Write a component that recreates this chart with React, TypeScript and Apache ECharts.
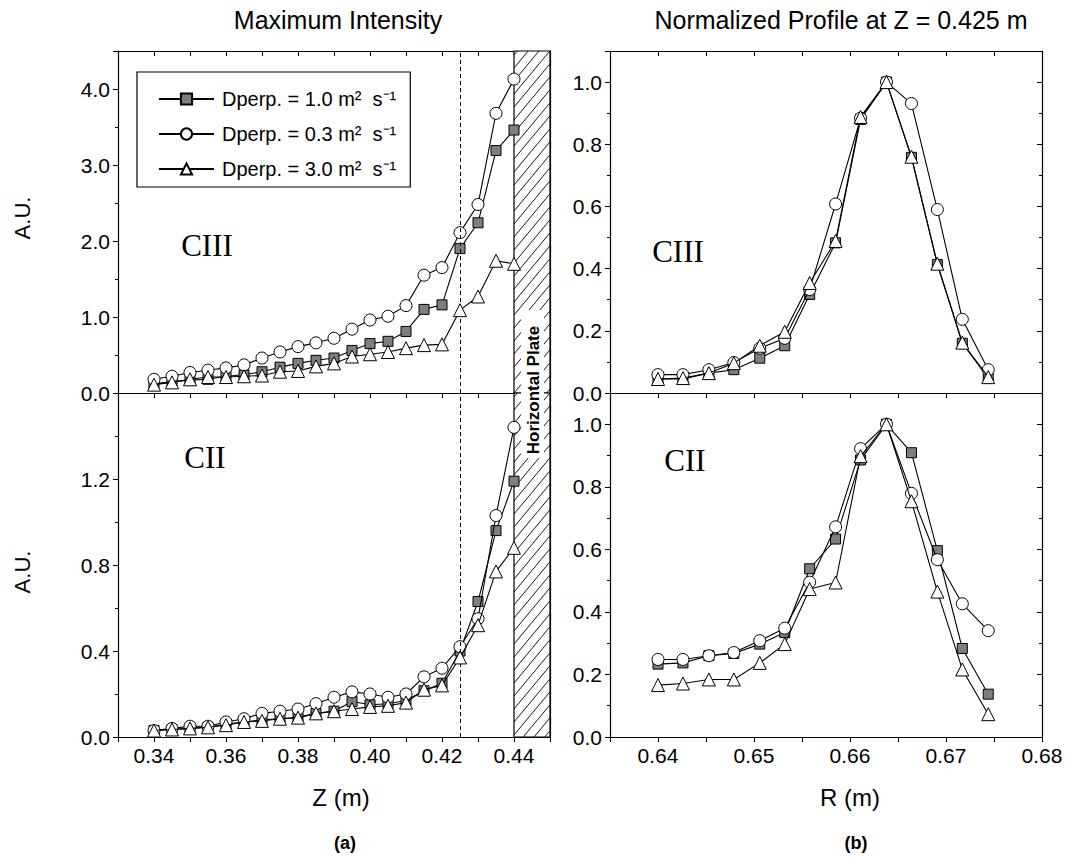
import React, { useEffect, useRef } from 'react';
import * as echarts from 'echarts';

// ---------- data ----------
const zValues = [0.34, 0.345, 0.35, 0.355, 0.36, 0.365, 0.37, 0.375, 0.38, 0.385, 0.39, 0.395, 0.40, 0.405, 0.41, 0.415, 0.42, 0.425, 0.43, 0.435, 0.44];
const ciiiD10 = [0.12, 0.15, 0.17, 0.18, 0.22, 0.24, 0.28, 0.34, 0.39, 0.43, 0.46, 0.56, 0.65, 0.68, 0.81, 1.10, 1.16, 1.90, 2.24, 3.19, 3.46];
const ciiiD03 = [0.18, 0.22, 0.27, 0.30, 0.33, 0.37, 0.46, 0.54, 0.61, 0.66, 0.72, 0.84, 0.96, 1.01, 1.15, 1.55, 1.65, 2.11, 2.48, 3.68, 4.13];
const ciiiD30 = [0.11, 0.14, 0.18, 0.21, 0.21, 0.22, 0.23, 0.28, 0.29, 0.35, 0.39, 0.48, 0.51, 0.54, 0.59, 0.63, 0.64, 1.09, 1.27, 1.74, 1.70];
const ciiD10 = [0.03, 0.035, 0.04, 0.045, 0.06, 0.07, 0.08, 0.085, 0.09, 0.11, 0.12, 0.165, 0.15, 0.155, 0.17, 0.215, 0.25, 0.40, 0.63, 0.96, 1.19];
const ciiD03 = [0.03, 0.04, 0.05, 0.05, 0.07, 0.085, 0.11, 0.12, 0.13, 0.155, 0.185, 0.21, 0.20, 0.185, 0.20, 0.28, 0.32, 0.42, 0.55, 1.03, 1.44];
const ciiD30 = [0.03, 0.035, 0.04, 0.045, 0.055, 0.07, 0.075, 0.085, 0.09, 0.11, 0.12, 0.13, 0.14, 0.145, 0.16, 0.22, 0.24, 0.37, 0.52, 0.77, 0.88];

const rValues = [0.6400, 0.6426, 0.6453, 0.6479, 0.6506, 0.6532, 0.6558, 0.6585, 0.6611, 0.6638, 0.6664, 0.6691, 0.6717, 0.6744];
const profCiiiD10 = [0.045, 0.045, 0.064, 0.075, 0.112, 0.152, 0.317, 0.483, 0.88, 1.0, 0.758, 0.413, 0.16, 0.048];
const profCiiiD03 = [0.059, 0.059, 0.075, 0.098, 0.144, 0.176, 0.333, 0.608, 0.884, 1.0, 0.931, 0.59, 0.237, 0.075];
const profCiiiD30 = [0.045, 0.048, 0.064, 0.096, 0.152, 0.197, 0.354, 0.489, 0.888, 1.0, 0.76, 0.416, 0.162, 0.051];
const profCiiD10 = [0.233, 0.237, 0.26, 0.267, 0.297, 0.334, 0.538, 0.633, 0.886, 1.0, 0.909, 0.596, 0.283, 0.137];
const profCiiD03 = [0.248, 0.248, 0.26, 0.27, 0.308, 0.348, 0.495, 0.672, 0.922, 1.0, 0.779, 0.567, 0.426, 0.34];
const profCiiD30 = [0.166, 0.171, 0.184, 0.184, 0.237, 0.297, 0.473, 0.494, 0.898, 1.0, 0.754, 0.465, 0.216, 0.073];

const seriesNames = ['Dperp. = 1.0', 'Dperp. = 0.3', 'Dperp. = 3.0'];
const unitSuffix = ' m²  s⁻¹';
const dashedZ = 0.425;
const plateRange = [0.44, 0.45];

const FONT = '"Liberation Sans", Arial, Helvetica, sans-serif';
const SERIF = '"Liberation Serif", "Times New Roman", serif';

const markerStyles = [
  { symbol: 'rect', symbolSize: 10, itemStyle: { color: '#7e7e7e', borderColor: '#000', borderWidth: 1 } },
  { symbol: 'circle', symbolSize: 12, itemStyle: { color: '#fff', borderColor: '#000', borderWidth: 1 } },
  { symbol: 'triangle', symbolSize: 13, itemStyle: { color: '#fff', borderColor: '#000', borderWidth: 1 } },
];

function lineSeries(i: number, xs: number[], ys: number[], xAxisIndex: number, yAxisIndex: number, extra: any = {}) {
  return {
    type: 'line',
    name: seriesNames[i],
    xAxisIndex,
    yAxisIndex,
    data: xs.map((x, k) => [x, ys[k]]),
    symbol: markerStyles[i].symbol,
    symbolSize: markerStyles[i].symbolSize,
    showSymbol: true,
    itemStyle: markerStyles[i].itemStyle,
    lineStyle: { color: '#000', width: 1.1 },
    z: 3 + i,
    ...extra,
  };
}

function dashedMark() {
  return {
    markLine: {
      silent: true,
      symbol: 'none',
      precision: 4,
      label: { show: false },
      lineStyle: { type: [4, 3], color: '#000', width: 1 },
      data: [{ xAxis: dashedZ }],
    },
  };
}

function hatchSeries(xAxisIndex: number, yAxisIndex: number, yTop: number) {
  return {
    type: 'custom',
    xAxisIndex,
    yAxisIndex,
    silent: true,
    z: 1,
    encode: { x: [0, 1], y: [2, 3] },
    data: [[plateRange[0], plateRange[1], 0, yTop]],
    renderItem: (params: any, api: any) => {
      const a = api.coord([api.value(0), api.value(3)]);
      const b = api.coord([api.value(1), api.value(2)]);
      const x1 = a[0], y1 = a[1], x2 = b[0], y2 = b[1];
      const children: any[] = [
        { type: 'rect', shape: { x: x1, y: y1, width: x2 - x1, height: y2 - y1 }, style: { fill: '#fff', stroke: '#000', lineWidth: 1.2 } },
      ];
      const k = 1.2;
      const step = 13;
      for (let c = y1 + k * x1 + 4; c < y2 + k * x2; c += step) {
        const xs = Math.max(x1, (c - y2) / k);
        const xe = Math.min(x2, (c - y1) / k);
        if (xe > xs) {
          children.push({
            type: 'line',
            shape: { x1: xs, y1: c - k * xs, x2: xe, y2: c - k * xe },
            style: { stroke: '#000', lineWidth: 0.9 },
          });
        }
      }
      return { type: 'group', children };
    },
  };
}

const labelStyle = { fontSize: 21, color: '#000', fontFamily: FONT };
const axisLine = { show: true, onZero: false, lineStyle: { color: '#000', width: 1.2 } };

function xAxisDef(gridIndex: number, min: number, max: number, interval: number, opts: any) {
  return {
    type: 'value',
    gridIndex,
    min,
    max,
    interval,
    position: opts.position || 'bottom',
    axisLine,
    axisTick: { show: true, inside: !!opts.inside, length: 5, lineStyle: { color: '#000' } },
    axisLabel: opts.labels
      ? { show: true, margin: 8, ...labelStyle, formatter: opts.formatter }
      : { show: false },
    splitLine: { show: false },
  };
}

function yAxisDef(gridIndex: number, min: number, max: number, interval: number, opts: any) {
  return {
    type: 'value',
    gridIndex,
    min,
    max,
    interval,
    position: opts.position || 'left',
    axisLine,
    axisTick: { show: true, inside: !!opts.inside, length: 5, lineStyle: { color: '#000' } },
    minorTick: { show: true, splitNumber: 2, length: 3, lineStyle: { color: '#000' } },
    axisLabel: opts.labels
      ? { show: true, margin: 8, ...labelStyle, formatter: opts.formatter }
      : { show: false },
    splitLine: { show: false },
    minorSplitLine: { show: false },
  };
}

const zFmt = (v: number) => (Math.round(v * 100) % 2 === 0 ? v.toFixed(2) : '');
const rFmt = (v: number) => (Math.round(v * 1000) % 10 === 0 ? v.toFixed(2) : '');
const fmtUpTo = (lim: number) => (v: number) => (v <= lim + 1e-6 ? v.toFixed(1) : '');

export default function App() {
  const ref = useRef<HTMLDivElement>(null);
  useEffect(() => {
    if (!ref.current) return;
    const chart = echarts.init(ref.current, undefined, { renderer: 'svg' });
    const grids = [
      { left: 118, top: 51, width: 432, height: 342 },
      { left: 118, top: 393, width: 432, height: 344 },
      { left: 610, top: 51, width: 432, height: 342 },
      { left: 610, top: 393, width: 432, height: 344 },
    ];
    const xAxis = [
      xAxisDef(0, 0.33, 0.45, 0.01, {}),
      xAxisDef(0, 0.33, 0.45, 0.01, { position: 'top', inside: true }),
      xAxisDef(1, 0.33, 0.45, 0.01, { labels: true, formatter: zFmt }),
      xAxisDef(2, 0.635, 0.68, 0.005, {}),
      xAxisDef(2, 0.635, 0.68, 0.005, { position: 'top', inside: true }),
      xAxisDef(3, 0.635, 0.68, 0.005, { labels: true, formatter: rFmt }),
    ];
    const yAxis = [
      yAxisDef(0, 0, 4.5, 1, { labels: true, formatter: fmtUpTo(4) }),
      yAxisDef(0, 0, 4.5, 1, { position: 'right', inside: true }),
      yAxisDef(1, 0, 1.6, 0.4, { labels: true, formatter: fmtUpTo(1.2) }),
      yAxisDef(1, 0, 1.6, 0.4, { position: 'right', inside: true }),
      yAxisDef(2, 0, 1.1, 0.2, { labels: true, formatter: fmtUpTo(1.0) }),
      yAxisDef(2, 0, 1.1, 0.2, { position: 'right', inside: true }),
      yAxisDef(3, 0, 1.1, 0.2, { labels: true, formatter: fmtUpTo(1.0) }),
      yAxisDef(3, 0, 1.1, 0.2, { position: 'right', inside: true }),
    ];

    const series: any[] = [
      hatchSeries(0, 0, 4.5),
      hatchSeries(2, 2, 1.6),
      lineSeries(0, zValues, ciiiD10, 0, 0, dashedMark()),
      lineSeries(1, zValues, ciiiD03, 0, 0),
      lineSeries(2, zValues, ciiiD30, 0, 0),
      lineSeries(0, zValues, ciiD10, 2, 2, dashedMark()),
      lineSeries(1, zValues, ciiD03, 2, 2),
      lineSeries(2, zValues, ciiD30, 2, 2),
      lineSeries(0, rValues, profCiiiD10, 3, 4),
      lineSeries(1, rValues, profCiiiD03, 3, 4),
      lineSeries(2, rValues, profCiiiD30, 3, 4),
      lineSeries(0, rValues, profCiiD10, 5, 6),
      lineSeries(1, rValues, profCiiD03, 5, 6),
      lineSeries(2, rValues, profCiiD30, 5, 6),
    ];

    const txt = (text: string, x: number, y: number, style: any, rotation = 0) => ({
      type: 'text',
      x,
      y,
      rotation,
      z: 100,
      silent: true,
      style: { text, fill: '#000', align: 'center', verticalAlign: 'middle', fontFamily: FONT, ...style },
    });

    const option: any = {
      animation: false,
      backgroundColor: '#fff',
      grid: grids,
      xAxis,
      yAxis,
      series,
      legend: {
        show: true,
        data: seriesNames,
        orient: 'vertical',
        left: 137,
        top: 72,
        padding: [15, 14, 6, 21],
        itemWidth: 55,
        itemHeight: 14,
        itemGap: 11,
        borderColor: '#000',
        borderWidth: 1.2,
        backgroundColor: '#fff',
        selectedMode: false,
        textStyle: {
          fontSize: 20,
          fontFamily: FONT,
          color: '#000',
          lineHeight: 24,
          padding: [0, 0, 0, 3],
        },
        formatter: (name: string) => name + unitSuffix,
      },
      graphic: [
        txt('Maximum Intensity', 338, 20, { fontSize: 25 }),
        txt('Normalized Profile at Z = 0.425 m', 841, 20, { fontSize: 25 }),
        txt('CIII', 207, 245, { fontSize: 31, fontFamily: SERIF }),
        txt('CIII', 678, 251, { fontSize: 31, fontFamily: SERIF }),
        txt('CII', 205, 457, { fontSize: 31, fontFamily: SERIF }),
        txt('CII', 685, 460, { fontSize: 31, fontFamily: SERIF }),
        {
          type: 'rect',
          z: 99,
          silent: true,
          shape: { x: 521, y: 310, width: 23, height: 148 },
          style: { fill: '#fff' },
        },
        txt('Horizontal Plate', 533, 390, { fontSize: 17, fontWeight: 'bold' }, Math.PI / 2),
        txt('A.U.', 22, 218, { fontSize: 22 }, Math.PI / 2),
        txt('A.U.', 22, 572, { fontSize: 22 }, Math.PI / 2),
        txt('Z (m)', 341, 797, { fontSize: 24 }),
        txt('R (m)', 850, 797, { fontSize: 24 }),
        txt('(a)', 345, 843, { fontSize: 18, fontWeight: 'bold' }),
        txt('(b)', 856, 843, { fontSize: 18, fontWeight: 'bold' }),
      ],
    };
    chart.setOption(option);
    return () => chart.dispose();
  }, []);
  return <div ref={ref} style={{ position: 'absolute', left: 0, top: 0, width: 1069, height: 859 }} />;
}
